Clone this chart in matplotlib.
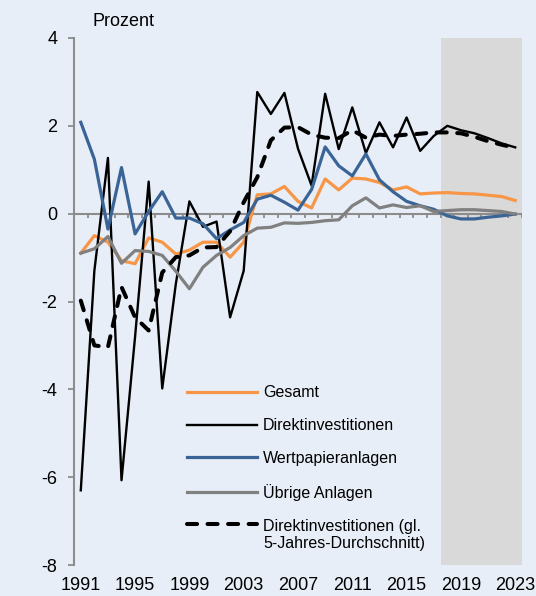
import matplotlib
matplotlib.use("Agg")
import matplotlib.pyplot as plt
import numpy as np

plt.rcParams['font.family'] = ['Liberation Sans', 'DejaVu Sans']
plt.rcParams['axes.unicode_minus'] = False

years = list(range(1991, 2024))
forecast_start = 2018

gesamt = [-0.9, -0.5, -0.65, -1.07, -1.14, -0.55, -0.65, -0.92, -0.83, -0.65,
          -0.65, -0.99, -0.65, 0.43, 0.45, 0.62, 0.28, 0.13, 0.79, 0.54,
          0.81, 0.79, 0.71, 0.54, 0.61, 0.45, 0.47, 0.48, 0.46, 0.45,
          0.42, 0.39, 0.3]
direkt = [-6.3, -1.3, 1.27, -6.07, -2.8, 0.73, -3.98, -1.6, 0.28, -0.3,
          -0.18, -2.36, -1.3, 2.77, 2.27, 2.75, 1.48, 0.64, 2.73, 1.47,
          2.42, 1.38, 2.08, 1.51, 2.19, 1.43, 1.77, 2.0, 1.9, 1.83,
          1.72, 1.6, 1.51]
wertpapier = [2.08, 1.24, -0.35, 1.05, -0.46, 0.05, 0.5, -0.1, -0.1, -0.23,
              -0.57, -0.37, -0.2, 0.33, 0.42, 0.26, 0.08, 0.55, 1.52, 1.09,
              0.86, 1.36, 0.77, 0.5, 0.28, 0.18, 0.1, -0.05, -0.12, -0.12,
              -0.08, -0.05, -0.01]
uebrige = [-0.9, -0.8, -0.52, -1.13, -0.84, -0.86, -0.95, -1.31, -1.71, -1.22,
           -0.95, -0.77, -0.5, -0.33, -0.31, -0.21, -0.22, -0.2, -0.16, -0.14,
           0.18, 0.36, 0.13, 0.2, 0.14, 0.18, 0.05, 0.07, 0.09, 0.09,
           0.07, 0.05, -0.01]
direkt_avg = [-1.98, -3.0, -3.04, -1.67, -2.36, -2.66, -1.34, -0.99, -0.95, -0.77,
              -0.76, -0.4, 0.26, 0.83, 1.67, 1.96, 1.97, 1.8, 1.73, 1.72,
              1.9, 1.73, 1.8, 1.77, 1.8, 1.82, 1.85, 1.85, 1.83, 1.75,
              1.65, 1.57, 1.5]

labels = ["Gesamt", "Direktinvestitionen", "Wertpapieranlagen", "Übrige Anlagen",
          "Direktinvestitionen (gl.\n5-Jahres-Durchschnitt)"]
yticks = [-8, -6, -4, -2, 0, 2, 4]
xtick_years = years[::4]

bg = '#E8EEF7'
axis_col = '#8C8C8C'

fig = plt.figure(figsize=(5.36, 5.96), dpi=100, facecolor=bg)
ax = fig.add_axes([74/536, 1-565/596, 448/536, 527/596])
ax.set_facecolor(bg)

ax.axvspan(forecast_start - 0.5, years[-1] + 0.5, color='#D9D9D9', zorder=0, lw=0)
ax.axhline(0, color=axis_col, lw=1.5, zorder=1.5)
ax.vlines(np.arange(years[0] - 0.5, years[-1] + 1.0, 1.0), -0.1, 0,
          color=axis_col, lw=1.3, zorder=1.5)

ax.plot(years, gesamt, color='#F79646', lw=2.3, label=labels[0], zorder=3)
ax.plot(years, direkt, color='black', lw=1.7, label=labels[1], zorder=3)
ax.plot(years, wertpapier, color='#3A6496', lw=2.3, label=labels[2], zorder=3)
ax.plot(years, uebrige, color='#808080', lw=2.3, label=labels[3], zorder=3)
ax.plot(years, direkt_avg, color='black', lw=2.9, ls=(0, (2.5, 2.6)),
        dash_capstyle='round', label=labels[4], zorder=3)

ax.set_xlim(years[0] - 0.5, years[-1] + 0.5)
ax.set_ylim(-8, 4)
ax.set_yticks(yticks)
ax.set_yticklabels([str(v) for v in yticks])
ax.set_xticks(xtick_years)
ax.set_xticklabels([str(y) for y in xtick_years])

for s in ['top', 'right', 'bottom']:
    ax.spines[s].set_visible(False)
ax.spines['left'].set_color(axis_col)
ax.spines['left'].set_linewidth(1.5)
ax.tick_params(axis='y', length=4, width=1.3, color=axis_col, pad=8,
               labelsize=13, labelcolor='black')
ax.tick_params(axis='x', length=0, pad=9, labelsize=13, labelcolor='black')

fig.text(93/536, 1-26/596, "Prozent", fontsize=13, ha='left', va='baseline')

leg = ax.legend(loc='upper left', bbox_to_anchor=(0.252, 0.341), frameon=False,
                fontsize=11.5, handlelength=4.4, handletextpad=0.38,
                labelspacing=1.12, borderpad=0, borderaxespad=0)
try:
    rows = []
    for col in leg._legend_handle_box.get_children():
        rows.extend(col.get_children())
    rows[-1].align = 'top'
except Exception:
    pass

fig.savefig('out.png', dpi=100, facecolor=bg)
